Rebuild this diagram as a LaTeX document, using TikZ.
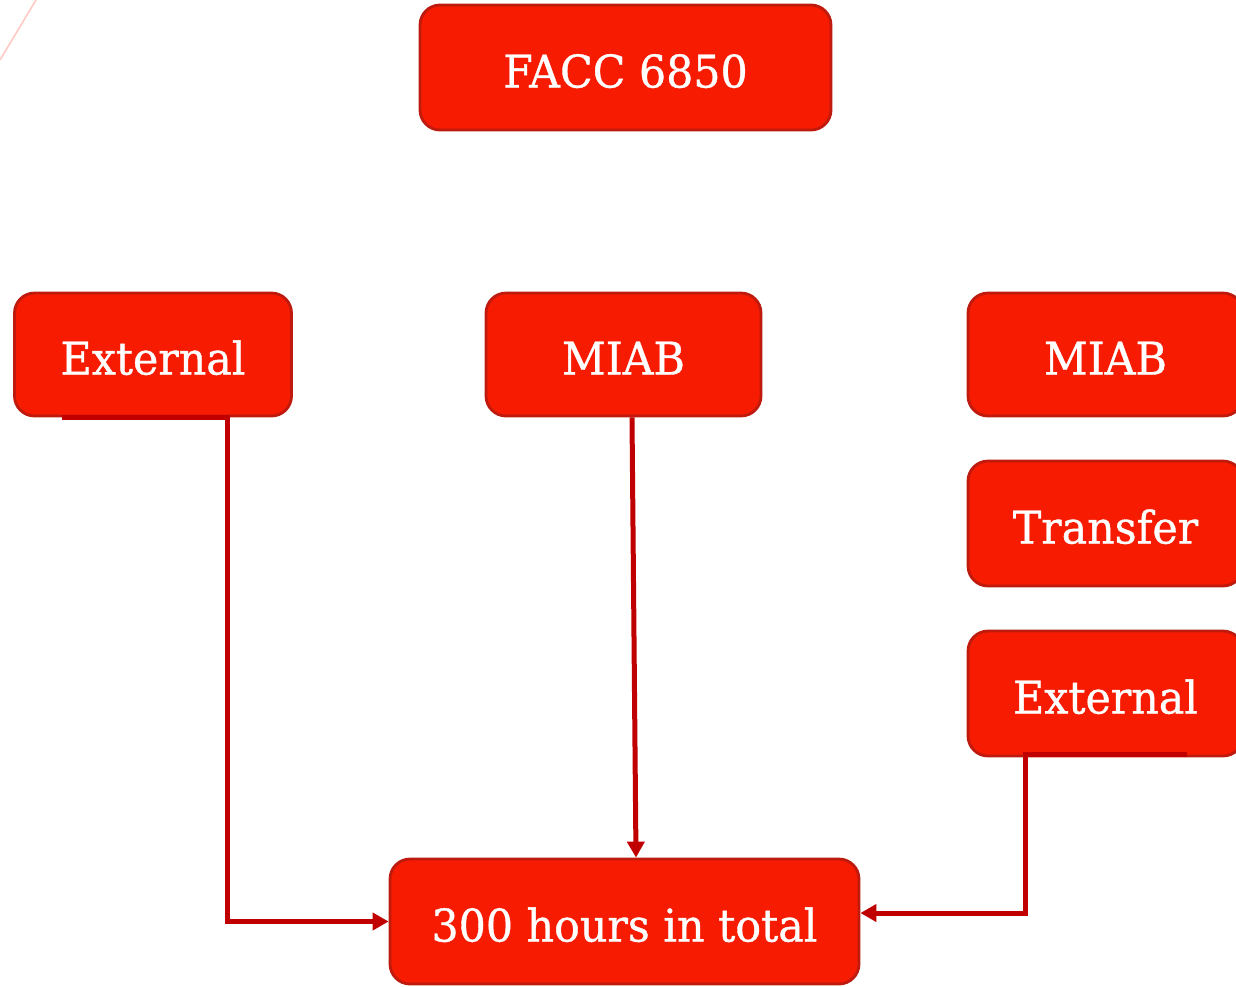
\documentclass[tikz,border=0pt]{standalone}
\usepackage{fontspec}
\setmainfont[FakeStretch=0.95,FakeBold=0.8]{DejaVu Serif}
\usetikzlibrary{arrows.meta}
\definecolor{boxfill}{HTML}{F71B02}
\definecolor{boxedge}{HTML}{BE1A0E}
\definecolor{conn}{HTML}{C00000}
\definecolor{deco}{HTML}{FFC8C0}
\tikzset{
  box/.style={draw=boxedge, fill=boxfill, line width=2.8pt, rounded corners=20pt,
    text=white, font=\fontsize{45}{48}\selectfont, inner sep=0pt,
    text height=40pt, text depth=0pt},
  link/.style={draw=conn, line width=5pt},
  arr/.style={link, -{Triangle[length=16pt,width=17pt]}},
}
\begin{document}
\begin{tikzpicture}[x=1pt,y=-1pt]
\useasboundingbox (0,0) rectangle (1236,986);
\clip (0,0) rectangle (1236,986);
\draw[deco, line width=1.5pt] (0,60) -- (36,0);
\node[box, minimum width=411pt, minimum height=125pt] (facc) at (625.5,67.5) {FACC 6850};
\node[box, minimum width=277pt, minimum height=123pt] (extL) at (153,354.5) {External};
\node[box, minimum width=275pt, minimum height=123pt] (miabM) at (623.5,354.5) {MIAB};
\node[box, minimum width=275pt, minimum height=123pt] (miabR) at (1105.5,354.5) {MIAB};
\node[box, minimum width=275pt, minimum height=125pt] (transfer) at (1105.5,523.5) {Transfer};
\node[box, minimum width=275pt, minimum height=125pt] (extR) at (1105.5,693.5) {External};
\node[box, minimum width=469pt, minimum height=125pt] (total) at (624.5,921.5) {300 hours in total};
% left connector
\coordinate (lA) at (227,416);
\coordinate (lB) at (62,417.5);
\draw[link] (lB) -- ([xshift=2.5pt]lA |- lB);
\draw[arr] (lA) |- (total.west);
% middle connector
\draw[arr] ([xshift=8.5pt]miabM.south) -- ([xshift=11.5pt]total.north);
% right connector
\coordinate (rA) at (1025,756);
\coordinate (rB) at (1187,754.5);
\draw[link] ([xshift=-2.5pt]rA |- rB) -- (rB);
\draw[arr] (rA) |- ([yshift=8.5pt]total.east);
\end{tikzpicture}
\end{document}
